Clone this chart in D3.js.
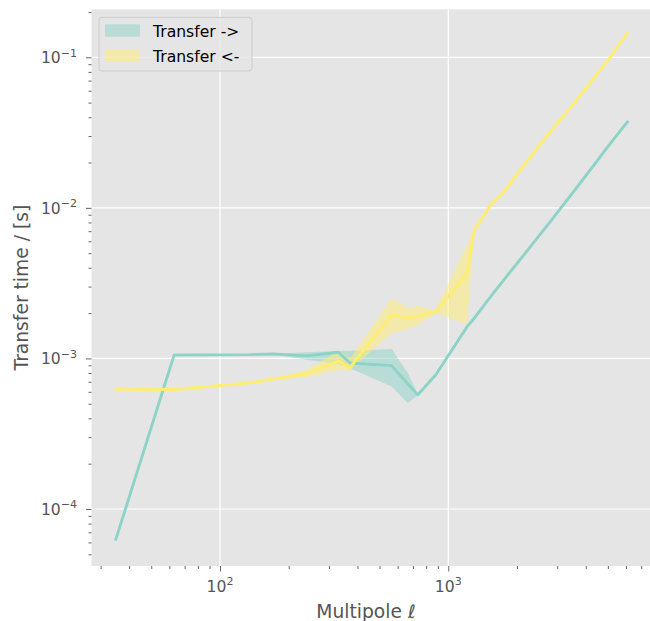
<!DOCTYPE html>
<html>
<head>
<meta charset="utf-8">
<script src="https://cdn.jsdelivr.net/npm/d3@7"></script>
<style>
  html, body { margin: 0; padding: 0; background: #ffffff; }
  svg { display: block; font-family: "DejaVu Sans", sans-serif; }
</style>
</head>
<body>
<svg id="chart" width="650" height="621"></svg>
<script>
// ---- data ----
const ell = [35, 63, 135, 171, 240, 330, 371, 565, 665, 735, 880, 1210, 1300, 1550, 1710, 2170, 2790, 3650, 5010, 6080];

const fwdMean = [6.3e-5, 1.055e-3, 1.06e-3, 1.07e-3, 1.04e-3, 1.10e-3, 9.33e-4, 8.96e-4, 6.77e-4, 5.73e-4, 7.77e-4, 1.626e-3, 1.85e-3, 2.63e-3, 3.18e-3, 4.99e-3, 8.06e-3, 1.36e-2, 2.56e-2, 3.72e-2];
const fwdLow  = [6.3e-5, 1.055e-3, 1.06e-3, 1.07e-3, 0.98e-3, 0.92e-3, 8.6e-4, 6.5e-4, 5.04e-4, 5.7e-4, 7.77e-4, 1.626e-3, 1.85e-3, 2.63e-3, 3.18e-3, 4.99e-3, 8.06e-3, 1.36e-2, 2.56e-2, 3.72e-2];
const fwdHigh = [6.3e-5, 1.055e-3, 1.06e-3, 1.07e-3, 1.10e-3, 1.12e-3, 1.126e-3, 1.156e-3, 7.97e-4, 5.8e-4, 7.77e-4, 1.626e-3, 1.85e-3, 2.63e-3, 3.18e-3, 4.99e-3, 8.06e-3, 1.36e-2, 2.56e-2, 3.72e-2];

const bwdMean = [6.27e-4, 6.22e-4, 6.88e-4, 7.3e-4, 7.97e-4, 9.6e-4, 8.69e-4, 1.944e-3, 1.857e-3, 1.9e-3, 2.04e-3, 3.67e-3, 7.12e-3, 1.07e-2, 1.217e-2, 1.97e-2, 3.2e-2, 5.19e-2, 9.57e-2, 0.144];
const bwdLow  = [6.27e-4, 6.22e-4, 6.88e-4, 7.3e-4, 7.5e-4, 8.39e-4, 8.3e-4, 1.476e-3, 1.57e-3, 1.67e-3, 2.0e-3, 1.69e-3, 7.12e-3, 1.07e-2, 1.217e-2, 1.97e-2, 3.2e-2, 5.19e-2, 9.57e-2, 0.144];
const bwdHigh = [6.27e-4, 6.22e-4, 6.88e-4, 7.3e-4, 8.4e-4, 1.126e-3, 1.0e-3, 2.51e-3, 2.16e-3, 2.23e-3, 2.1e-3, 5.7e-3, 7.12e-3, 1.07e-2, 1.217e-2, 1.97e-2, 3.2e-2, 5.19e-2, 9.57e-2, 0.144];

const seriesNames = ["Transfer ->", "Transfer <-"];
const seriesColors = ["#8dd3c7", "#ffed6f"];

const xMajorTicks = [100, 1000];
const xMajorExp = ["2", "3"];
const yMajorTicks = [1e-4, 1e-3, 1e-2, 1e-1];
const yMajorExp = ["\u22124", "\u22123", "\u22122", "\u22121"];

const xLabel = "Multipole \u2113";
const yLabel = "Transfer time / [s]";

// ---- layout ----
const svg = d3.select("#chart");
const plot = { left: 91.5, right: 650, top: 9.3, bottom: 566 };
const x = d3.scaleLog().domain([Math.pow(10, 1.4372), Math.pow(10, 3.8835)]).range([plot.left, plot.right]);
const y = d3.scaleLog().domain([Math.pow(10, -4.3786), Math.pow(10, -0.6812)]).range([plot.bottom, plot.top]);

const tickColor = "#555555";
const fontTick = 15.6, fontLabel = 18.7;

// background
svg.append("rect")
  .attr("x", plot.left).attr("y", plot.top)
  .attr("width", plot.right - plot.left).attr("height", plot.bottom - plot.top)
  .attr("fill", "#e5e5e5");

svg.append("defs").append("clipPath").attr("id", "clip")
  .append("rect")
  .attr("x", plot.left).attr("y", plot.top)
  .attr("width", plot.right - plot.left).attr("height", plot.bottom - plot.top);

// grid
const grid = svg.append("g");
grid.selectAll("line.gx").data(xMajorTicks).enter().append("line")
  .attr("x1", d => x(d)).attr("x2", d => x(d))
  .attr("y1", plot.top).attr("y2", plot.bottom)
  .attr("stroke", "#ffffff").attr("stroke-width", 1.2);
grid.selectAll("line.gy").data(yMajorTicks).enter().append("line")
  .attr("y1", d => y(d)).attr("y2", d => y(d))
  .attr("x1", plot.left).attr("x2", plot.right)
  .attr("stroke", "#ffffff").attr("stroke-width", 1.2);

// minor ticks
const [xd0, xd1] = x.domain();
const xMinor = [];
for (let e = 1; e <= 3; e++) for (let m = 2; m <= 9; m++) { const v = m * Math.pow(10, e); if (v >= xd0 && v <= xd1) xMinor.push(v); }
const [yd0, yd1] = y.domain();
const yMinor = [];
for (let e = -5; e <= -1; e++) for (let m = 2; m <= 9; m++) { const v = m * Math.pow(10, e); if (v >= yd0 && v <= yd1) yMinor.push(v); }

// x axis
const xAxisG = svg.append("g").attr("transform", `translate(0,${plot.bottom})`);
xAxisG.call(d3.axisBottom(x).tickValues(xMinor).tickSize(3).tickFormat(""));
xAxisG.append("g").call(d3.axisBottom(x).tickValues(xMajorTicks).tickSize(5.5).tickPadding(5).tickFormat(""));
xAxisG.selectAll(".domain").remove();
xAxisG.selectAll(".tick line").attr("stroke", tickColor).attr("stroke-width", 0.9);

const xLab = svg.append("g");
xMajorTicks.forEach((v, i) => {
  const t = xLab.append("text")
    .attr("x", x(v)).attr("y", 591.5)
    .attr("text-anchor", "middle")
    .attr("fill", tickColor)
    .attr("font-size", fontTick);
  t.append("tspan").text("10");
  t.append("tspan").attr("font-size", 11).attr("dy", -6.8).text(xMajorExp[i]);
});

// y axis
const yAxisG = svg.append("g").attr("transform", `translate(${plot.left},0)`);
yAxisG.call(d3.axisLeft(y).tickValues(yMinor).tickSize(3).tickFormat(""));
yAxisG.append("g").call(d3.axisLeft(y).tickValues(yMajorTicks).tickSize(5.5).tickFormat(""));
yAxisG.selectAll(".domain").remove();
yAxisG.selectAll(".tick line").attr("stroke", tickColor).attr("stroke-width", 0.9);

const yLab = svg.append("g");
yMajorTicks.forEach((v, i) => {
  const t = yLab.append("text")
    .attr("x", 77).attr("y", y(v) + 6)
    .attr("text-anchor", "end")
    .attr("fill", tickColor)
    .attr("font-size", fontTick);
  t.append("tspan").text("10");
  t.append("tspan").attr("font-size", 11).attr("dy", -6.8).text(yMajorExp[i]);
});

// axis labels
svg.append("text")
  .attr("x", 366).attr("y", 617.5)
  .attr("text-anchor", "middle")
  .attr("fill", tickColor)
  .attr("font-size", fontLabel)
  .text(xLabel);
svg.append("text")
  .attr("transform", `translate(28,${(plot.top + plot.bottom) / 2}) rotate(-90)`)
  .attr("text-anchor", "middle")
  .attr("fill", tickColor)
  .attr("font-size", fontLabel)
  .text(yLabel);

// data
const series = [
  { mean: fwdMean, low: fwdLow, high: fwdHigh },
  { mean: bwdMean, low: bwdLow, high: bwdHigh }
];
const dataG = svg.append("g").attr("clip-path", "url(#clip)");
const area = d3.area().x(d => x(d.l)).y0(d => y(d.lo)).y1(d => y(d.hi));
const line = d3.line().x(d => x(d.l)).y(d => y(d.v));

series.forEach((s, i) => {
  const pts = ell.map((l, k) => ({ l, v: s.mean[k], lo: s.low[k], hi: s.high[k] }));
  dataG.append("path").datum(pts)
    .attr("d", area)
    .attr("fill", seriesColors[i]).attr("fill-opacity", 0.5).attr("stroke", "none");
});
series.forEach((s, i) => {
  const pts = ell.map((l, k) => ({ l, v: s.mean[k] }));
  dataG.append("path").datum(pts)
    .attr("d", line)
    .attr("fill", "none")
    .attr("stroke", seriesColors[i])
    .attr("stroke-width", 2.9)
    .attr("stroke-linejoin", "round")
    .attr("stroke-linecap", "square");
});

// legend
const leg = svg.append("g");
leg.append("rect")
  .attr("x", 99).attr("y", 17.3).attr("width", 153).attr("height", 53.7)
  .attr("rx", 3).attr("ry", 3)
  .attr("fill", "#e5e5e5").attr("fill-opacity", 0.8)
  .attr("stroke", "#cccccc").attr("stroke-width", 1);
seriesNames.forEach((name, i) => {
  const yy = 24.3 + i * 25;
  leg.append("rect")
    .attr("x", 105).attr("y", yy).attr("width", 35).attr("height", 12.4)
    .attr("fill", seriesColors[i]).attr("fill-opacity", 0.5);
  leg.append("text")
    .attr("x", 153).attr("y", yy + 12.4)
    .attr("fill", "#000000")
    .attr("font-size", fontTick)
    .text(name);
});
</script>
</body>
</html>
